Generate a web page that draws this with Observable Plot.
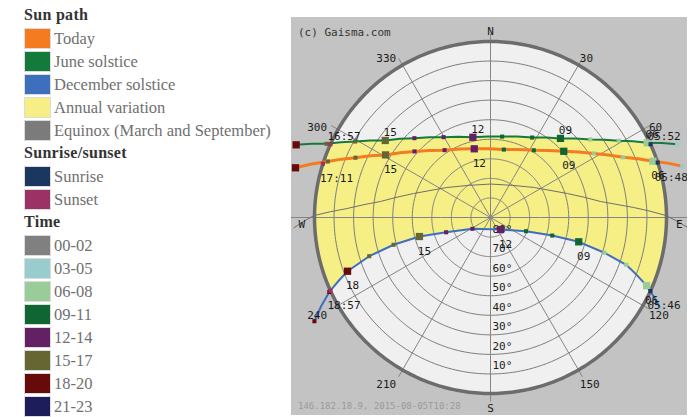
<!DOCTYPE html>
<html><head><meta charset="utf-8">
<script src="https://cdn.jsdelivr.net/npm/d3@7"></script>
<script src="https://cdn.jsdelivr.net/npm/@observablehq/plot@0.6"></script>
<style>
body{margin:0;background:#fff;width:695px;height:417px;overflow:hidden;position:relative;font-family:"Liberation Serif",serif}
.hd{position:absolute;left:24px;height:22px;line-height:22px;font-weight:bold;font-size:16px;color:#333;letter-spacing:0.3px;white-space:nowrap}
.it{position:absolute;left:24px;height:21px;display:flex;align-items:center;white-space:nowrap}
.sw{width:27px;height:21px;box-sizing:border-box;border:1px solid #dcdcdc}
.lb{margin-left:3px;font-size:16.5px;color:#707070}
#chart{position:absolute;left:291px;top:17px}
.ov{position:absolute;font-family:"DejaVu Sans Mono",monospace;white-space:nowrap}
</style></head>
<body>
<div id="legend"></div>
<div id="chart"></div>
<div class="ov" style="left:298px;top:26px;font-size:11px;line-height:14px;color:#333">(c) Gaisma.com</div>
<div class="ov" style="left:298px;top:400px;font-size:9px;line-height:12px;color:#9a9a9a">146.182.18.9, 2015-08-05T10:28</div>
<script>
// ---- Legend data ----
const sunPathNames = ["Today", "June solstice", "December solstice", "Annual variation", "Equinox (March and September)"];
const sunPathColors = ["#f47b20", "#137a3c", "#3e6fbf", "#f5ef86", "#7b7b7b"];
const riseSetNames = ["Sunrise", "Sunset"];
const riseSetColors = ["#1b365f", "#9b3165"];
const timeNames = ["00-02", "03-05", "06-08", "09-11", "12-14", "15-17", "18-20", "21-23"];
const timeColors = ["#808080", "#99cccc", "#99cc99", "#106633", "#632063", "#666633", "#660a0a", "#1d1d5c"];

// ---- Sun paths: hour, azimuth (deg clockwise from N), altitude (deg) ----
const todayHours = [5, 6, 7, 8, 9, 10, 11, 12, 13, 14, 15, 16, 17, 18];
const todayAz = [75.0, 70.9, 65.6, 58.2, 47.9, 32.8, 11.1, 346.7, 325.7, 311.0, 300.8, 293.9, 289.0, 284.3];
const todayAlt = [-11.5, 2.1, 15.5, 27.9, 39.5, 49.1, 54.6, 53.9, 48.3, 38.5, 27.5, 14.5, 2.0, -12.9];
const todayRiseSetTime = ["05:48", "17:11"];
const todayRiseSetAz = [71.8, 287.8];

const juneHours = [5, 6, 7, 8, 9, 10, 11, 12, 13, 14, 15, 16, 17, 18];
const juneAz = [68.6, 64.5, 59.1, 52.0, 41.5, 27.5, 8.2, 347.6, 329.7, 316.2, 306.2, 299.3, 294.2, 290.5];
const juneAlt = [-12.5, 1.2, 13.6, 25.2, 36.0, 43.9, 48.2, 48.0, 42.4, 33.8, 23.3, 10.6, -1.9, -16.1];
const juneRiseSetTime = ["05:52", "16:57"];
const juneRiseSetAz = [65.4, 294.6];

const decHours = [5, 6, 7, 8, 9, 10, 11, 12, 13, 14, 15, 16, 17, 18, 19, 20];
const decAz = [118.2, 113.6, 109.2, 107.2, 105.4, 106.3, 111.0, 140.2, 237.9, 251.6, 255.0, 254.3, 252.3, 249.4, 245.2, 239.5];
const decAlt = [-8.7, 2.9, 16.5, 29.0, 43.2, 57.1, 70.5, 82.0, 79.1, 66.1, 52.4, 38.5, 24.9, 11.9, -0.8, -14.5];
const decRiseSetTime = ["05:46", "18:57"];
const decRiseSetAz = [114.7, 245.4];

const equinoxAz = [267.0, 270.6, 273.6, 278.3, 287.3, 304.3, 0, 55.7, 72.7, 81.7, 86.0, 89.3, 92.8];
const equinoxAlt = [-10.7, -0.4, 16.6, 33.2, 48.8, 62.8, 72.9, 62.8, 48.8, 33.2, 16.6, 0.5, -10.7];

// ---- Axes ----
const azTicks = [0, 30, 60, 90, 120, 150, 180, 210, 240, 270, 300, 330];
const azLabels = ["N", "30", "60", "E", "120", "150", "S", "210", "240", "W", "300", "330"];
const altTicks = [10, 20, 30, 40, 50, 60, 70, 80];

// ---- Legend ----
const legend = document.getElementById("legend");
let row = 0;
function rowTop(h) { return 15 + 23 * row - h / 2; }
function heading(t) {
  const d = document.createElement("div"); d.className = "hd"; d.textContent = t;
  d.style.top = rowTop(22) + "px"; legend.appendChild(d); row++;
}
function item(t, c) {
  const d = document.createElement("div"); d.className = "it"; d.style.top = (rowTop(21) + 0.5) + "px";
  const s = document.createElement("div"); s.className = "sw"; s.style.background = c;
  const l = document.createElement("span"); l.className = "lb"; l.textContent = t;
  d.appendChild(s); d.appendChild(l); legend.appendChild(d); row++;
}
heading("Sun path"); sunPathNames.forEach((n, i) => item(n, sunPathColors[i]));
heading("Sunrise/sunset"); riseSetNames.forEach((n, i) => item(n, riseSetColors[i]));
heading("Time"); timeNames.forEach((n, i) => item(n, timeColors[i]));

// ---- Chart ----
const lon = az => 180 - az;
const mk = (key, hours, az, alt) => hours.map((h, i) => ({key, hour: h, az: az[i], alt: alt[i]}));
const todayPts = mk("today", todayHours, todayAz, todayAlt);
const junePts = mk("june", juneHours, juneAz, juneAlt);
const decPts = mk("dec", decHours, decAz, decAlt);
const allPts = [...todayPts, ...junePts, ...decPts];
const eqPts = equinoxAz.map((a, i) => ({az: a, alt: equinoxAlt[i]}));
const rs = (key, times, az) => times.map((t, i) => ({key, time: t, az: az[i], alt: 0, kind: i}));
const risePts = [...rs("today", todayRiseSetTime, todayRiseSetAz), ...rs("june", juneRiseSetTime, juneRiseSetAz), ...rs("dec", decRiseSetTime, decRiseSetAz)];

// annual variation polygon: June path above horizon, horizon arc, December path back, horizon arc
const above = pts => pts.filter(p => p.alt > 0).map(p => [lon(p.az), p.alt]);
const jr = risePts.filter(p => p.key === "june"), dr = risePts.filter(p => p.key === "dec");
const ring = [[lon(jr[0].az), 0], ...above(junePts), [lon(jr[1].az), 0], [lon(dr[1].az), 0], ...above(decPts).reverse(), [lon(dr[0].az), 0]];
ring.push(ring[0]);
let annual = {type: "Polygon", coordinates: [ring]};
if (d3.geoArea(annual) > 2 * Math.PI) annual = {type: "Polygon", coordinates: [ring.slice().reverse()]};

const horizon = d3.geoCircle().center([0, 90]).radius(90).precision(1)();
const groupColor = h => timeColors[Math.floor(h / 3)];
const pad = h => String(h).padStart(2, "0");
const labelDy = {today: 14.5, june: -8, dec: 14.5};

const hourLabelMarks = Object.keys(labelDy).map(k => Plot.text(allPts.filter(p => p.key === k && p.hour % 3 === 0 && p.alt > 0), {
  x: p => lon(p.az), y: "alt", text: p => pad(p.hour), dx: 5, dy: labelDy[k], fontSize: 11, fill: "#1a1a1a"}));
const timeLabelMarks = Object.keys(labelDy).map(k => Plot.text(risePts.filter(p => p.key === k), {
  x: p => lon(p.az), y: "alt", text: "time", textAnchor: "start", dx: -3, dy: labelDy[k], fontSize: 11, fill: "#1a1a1a"}));

const azData = azTicks.map((a, i) => ({az: a, label: azLabels[i]}));
const lblR = -6.5;

const chart = Plot.plot({
  width: 396, height: 398,
  marginLeft: 23, marginRight: 21, marginTop: 24, marginBottom: 22,
  projection: {type: "azimuthal-equidistant", rotate: [0, -90], domain: horizon, clip: false},
  color: {type: "identity"},
  style: {background: "#c3c3c3", fontFamily: "DejaVu Sans Mono, monospace", fontSize: "11px"},
  marks: [
    Plot.geo([horizon], {fill: "#f0f0f0"}),
    Plot.geo([annual], {fill: sunPathColors[3]}),
    Plot.geo(altTicks, {geometry: a => d3.geoCircle().center([0, 90]).radius(90 - a).precision(1)(), fill: "none", stroke: "#7c7c7c", strokeWidth: 1}),
    Plot.link(azTicks, {x1: a => lon(a), y1: 90, x2: a => lon(a), y2: a => (a % 180 === 90 ? -12 : -4), stroke: "#858585", strokeWidth: 1}),
    Plot.geo([horizon], {fill: "none", stroke: "#6c6c6c", strokeWidth: 3.5}),
    Plot.text(altTicks, {x: lon(180), y: a => a, text: a => a + "°", textAnchor: "start", dx: 2, dy: -8, fontSize: 11, fill: "#1a1a1a"}),
    Plot.line(eqPts, {x: p => lon(p.az), y: "alt", stroke: "#6e6e6e", strokeWidth: 1}),
    Plot.line(decPts, {x: p => lon(p.az), y: "alt", stroke: sunPathColors[2], strokeWidth: 2}),
    Plot.line(junePts, {x: p => lon(p.az), y: "alt", stroke: sunPathColors[1], strokeWidth: 2}),
    Plot.line(todayPts, {x: p => lon(p.az), y: "alt", stroke: sunPathColors[0], strokeWidth: 3}),
    Plot.dot(allPts.filter(p => p.hour % 3 !== 0), {x: p => lon(p.az), y: "alt", symbol: "square", r: 2.3, fill: p => groupColor(p.hour)}),
    Plot.dot(allPts.filter(p => p.hour % 3 === 0), {x: p => lon(p.az), y: "alt", symbol: "square", r: 4.1, fill: p => groupColor(p.hour)}),
    Plot.dot(risePts, {x: p => lon(p.az), y: "alt", symbol: "square", r: 2.3, fill: p => riseSetColors[p.kind]}),
    ...hourLabelMarks,
    ...timeLabelMarks,
    Plot.text(azData.filter(d => d.az % 180 === 0), {x: d => lon(d.az), y: lblR, text: "label", dy: 2.5, fontSize: 11, fill: "#1a1a1a"}),
    Plot.text(azData.filter(d => d.az % 180 === 90), {x: d => lon(d.az), y: lblR, text: "label", dy: 7, fontSize: 11, fill: "#1a1a1a"}),
    Plot.text(azData.filter(d => d.az % 90 !== 0 && d.az < 180), {x: d => lon(d.az), y: lblR, text: "label", textAnchor: "start", dx: -5, dy: 4, fontSize: 11, fill: "#1a1a1a"}),
    Plot.text(azData.filter(d => d.az % 90 !== 0 && d.az > 180), {x: d => lon(d.az), y: lblR, text: "label", textAnchor: "end", dx: 0, dy: 4, fontSize: 11, fill: "#1a1a1a"})
  ]
});
document.getElementById("chart").appendChild(chart);
</script>
</body></html>
